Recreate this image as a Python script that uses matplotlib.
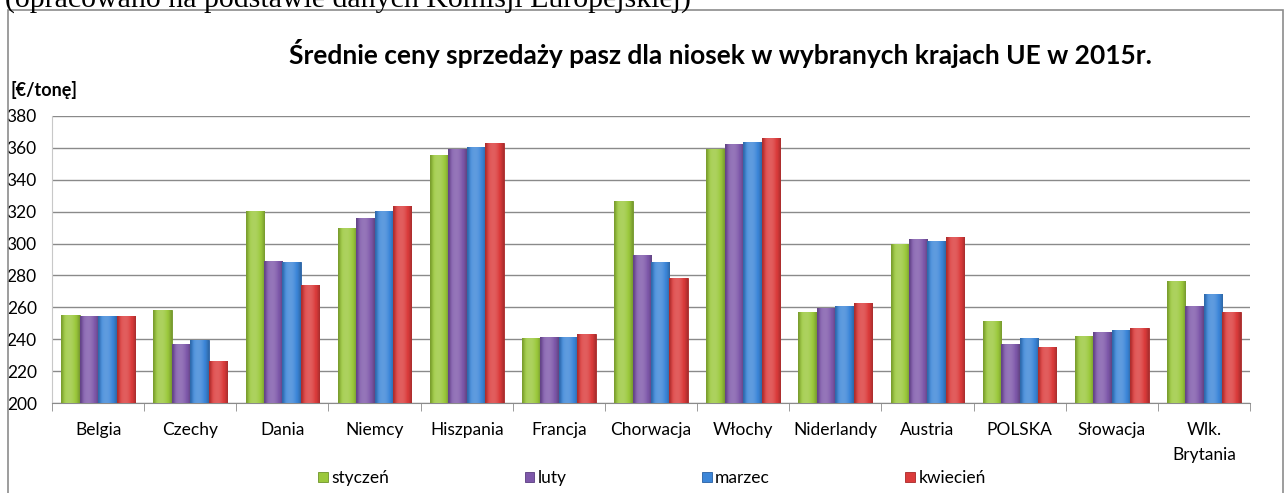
import matplotlib
matplotlib.use("Agg")
import matplotlib.pyplot as plt
import numpy as np
from matplotlib.colors import to_rgb
from matplotlib.patches import Rectangle

# values (EUR / tonne)
countries = ["Belgia", "Czechy", "Dania", "Niemcy", "Hiszpania", "Francja", "Chorwacja",
             "Włochy", "Niderlandy", "Austria", "POLSKA", "Słowacja", "Wlk.\nBrytania"]
months = ["styczeń", "luty", "marzec", "kwiecień"]
styczen = [255.5, 258.6, 320.3, 309.6, 355.4, 240.6, 326.5, 359.0, 256.9, 300.0, 251.3, 242.0, 276.3]
luty = [254.5, 236.8, 289.0, 316.3, 359.0, 241.2, 292.8, 362.5, 259.6, 302.7, 237.0, 244.5, 260.9]
marzec = [254.5, 239.8, 288.6, 320.7, 360.4, 241.6, 288.7, 363.7, 260.7, 301.3, 240.8, 245.6, 268.4]
kwiecien = [254.5, 226.3, 273.8, 323.4, 362.9, 243.5, 278.7, 366.5, 262.7, 303.8, 235.1, 247.3, 257.3]
colors = ["#9BC83C", "#7E58AA", "#3C86D8", "#DB3B3B"]
edges = ["#6E9428", "#5A3D80", "#275FA3", "#A82828"]

plt.rcParams["font.family"] = ["Lato", "DejaVu Sans"]


def shade(color, n=32):
    # horizontal cylinder-like shading: light centre, darker sides
    base = np.array(to_rgb(color))
    t = np.linspace(-1, 1, n)
    light = 0.18 * np.clip(1 - ((t + 0.15) / 0.7) ** 2, 0, 1)
    dark = 0.22 * np.clip(np.abs(t) - 0.6, 0, 1) / 0.4
    rgb = base[None, :] * (1 - dark[:, None]) + (1 - base[None, :]) * light[:, None]
    return np.clip(rgb, 0, 1)[None, :, :]


fig = plt.figure(figsize=(12.84, 4.93), dpi=100)

# outer frame of the chart object
fig.patches.append(Rectangle((8 / 1284, -0.01), 1275 / 1284, 1 - 10 / 493 + 0.01,
                             transform=fig.transFigure, fill=False,
                             edgecolor="#8c8c8c", linewidth=1.2))

# caption above the chart, cut by the image edge (as in the source)
fig.text(5 / 1284, 1 - 7 / 493, "(opracowano na podstawie danych Komisji Europejskiej)",
         family=["Liberation Serif", "DejaVu Serif"], fontsize=21.5, ha="left", va="baseline")

ax = fig.add_axes([52 / 1284, 1 - 403 / 493, 1198 / 1284, 287 / 493])

x = np.arange(len(countries))
width = 0.2
series = [styczen, luty, marzec, kwiecien]
for i, (vals, label) in enumerate(zip(series, months)):
    bars = ax.bar(x - 0.3 + i * width, np.array(vals) - 200, width, bottom=200,
                  color=colors[i], edgecolor=edges[i], linewidth=0.6, label=label, zorder=3)
    grad = shade(colors[i])
    for b in bars:
        im = ax.imshow(grad, extent=(b.get_x(), b.get_x() + b.get_width(), b.get_y(),
                                     b.get_y() + b.get_height()),
                       aspect="auto", zorder=3.5, interpolation="bilinear")
        im.set_clip_path(b)

ax.set_ylim(200, 380)
ax.set_xlim(-0.5, len(countries) - 0.5)
ax.set_yticks(np.arange(200, 381, 20))
ax.yaxis.grid(True, color="#8a8a8a", linewidth=1.0, zorder=0)
ax.set_axisbelow(True)

ax.set_xticks(x)
ax.set_xticklabels(countries, fontsize=12.5, linespacing=1.65)
ax.set_xticks(np.arange(-0.5, len(countries)), minor=True)
ax.tick_params(axis="x", which="major", length=0, pad=14)
ax.tick_params(axis="x", which="minor", length=6, color="#8a8a8a", direction="out")
ax.tick_params(axis="y", length=0, labelsize=12.5, pad=11)

for side in ["top", "right"]:
    ax.spines[side].set_visible(False)
ax.spines["left"].set_color("#c8c8c8")
ax.spines["bottom"].set_color("#8a8a8a")

fig.text(720 / 1284, 1 - 53 / 493,
         "Średnie ceny sprzedaży pasz dla niosek w wybranych krajach UE w 2015r.",
         fontsize=19, fontweight="bold", ha="center", va="center")
fig.text(10 / 1284, 1 - 90 / 493, "[€/tonę]", fontsize=13, fontweight="bold",
         ha="left", va="center")

fig.legend(loc="center", bbox_to_anchor=(652 / 1284, 1 - 478 / 493), ncol=4,
           frameon=False, fontsize=12.5, handlelength=0.55, handleheight=0.55,
           handletextpad=0.2, columnspacing=7.8)

fig.savefig("out.png", dpi=100)
